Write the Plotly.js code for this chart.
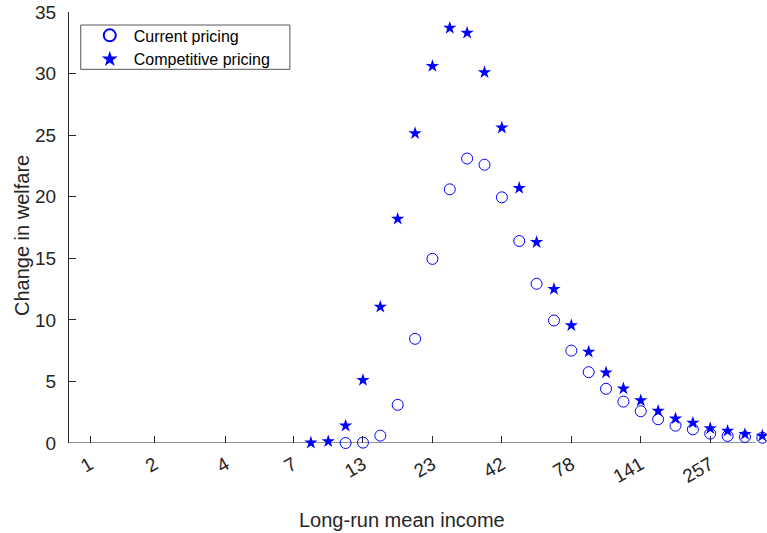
<!DOCTYPE html>
<html>
<head>
<meta charset="utf-8">
<script src="https://cdn.plot.ly/plotly-3.0.1.min.js"></script>
<style>html,body{margin:0;padding:0;background:#fff;}#chart{width:767px;height:533px;}</style>
</head>
<body>
<div id="chart"></div>
<script>
// Grid positions (income grid index) and values
const currentX = [15,16,17,18,19,20,21,22,23,24,25,26,27,28,29,30,31,32,33,34,35,36,37,38,39];
const currentY = [0.0,0.03,0.6,3.1,8.46,14.95,20.6,23.1,22.6,19.95,16.4,12.93,9.95,7.5,5.75,4.4,3.36,2.58,1.93,1.41,1.11,0.76,0.57,0.49,0.43];
const competitiveX = [13,14,15,16,17,18,19,20,21,22,23,24,25,26,27,28,29,30,31,32,33,34,35,36,37,38,39];
const competitiveY = [0.02,0.13,1.4,5.1,11.05,18.2,25.15,30.6,33.7,33.3,30.1,25.6,20.7,16.3,12.5,9.55,7.4,5.72,4.42,3.45,2.6,1.98,1.63,1.19,0.98,0.72,0.58];
const xTickVals = [0.28,4,8.1,12,16,20,24,28,32,36];
const xTickText = ['1','2','4','7','13','23','42','78','141','257'];
const yTickVals = [0,5,10,15,20,25,30,35];
const xAxisStart = -0.93, xAxisEnd = 38.61;

const font = 'Liberation Sans, Arial, Helvetica, sans-serif';
const ink = '#262626';

const traces = [
  {x: currentX, y: currentY, mode: 'markers', type: 'scatter', name: 'Current pricing',
   cliponaxis: false,
   marker: {symbol: 'circle-open', size: 11, color: '#0000ff', line: {width: 1, color: '#0000ff'}}},
  {x: competitiveX, y: competitiveY, mode: 'markers', type: 'scatter', name: 'Competitive pricing',
   cliponaxis: false,
   marker: {symbol: 'star', size: 10, color: '#0000ff', line: {width: 0}}}
];

const layout = {
  width: 767, height: 533,
  margin: {l: 69, r: 0, t: 12, b: 90},
  paper_bgcolor: '#fff', plot_bgcolor: '#fff',
  font: {family: font, color: ink},
  showlegend: true,
  legend: {x: 0.024, y: 0.985, xanchor: 'left', yanchor: 'top', bgcolor: 'rgba(0,0,0,0)',
           borderwidth: 0, itemsizing: 'constant', itemwidth: 38,
           font: {size: 16, family: font, color: '#000'}, tracegroupgap: 0},
  xaxis: {range: [xAxisStart, 39.27], tickmode: 'array', tickvals: xTickVals, ticktext: xTickText,
          tickangle: -30, ticks: 'inside', ticklen: 7, tickwidth: 1, tickcolor: ink,
          showline: false, showgrid: false, zeroline: false,
          tickfont: {size: 19, family: font, color: ink}, ticklabelstandoff: 6},
  yaxis: {range: [0, 35], tickmode: 'array', tickvals: yTickVals,
          ticks: 'inside', ticklen: 7, tickwidth: 1, tickcolor: ink,
          showline: true, linecolor: ink, linewidth: 1, showgrid: false, zeroline: false,
          tickfont: {size: 19, family: font, color: ink}, ticklabelstandoff: 8},
  shapes: [
    {type: 'line', xref: 'x', yref: 'y', x0: xAxisStart, x1: xAxisEnd, y0: 0, y1: 0,
     line: {color: ink, width: 1}, layer: 'below'},
    {type: 'rect', xref: 'paper', yref: 'paper', x0: 0.0168, x1: 0.3165, y0: 0.867, y1: 0.9698,
     line: {color: '#555', width: 1}, fillcolor: 'rgba(0,0,0,0)'}
  ],
  annotations: [
    {text: 'Long-run mean income', xref: 'paper', yref: 'paper', x: 0.477, y: -0.1787,
     xanchor: 'center', yanchor: 'middle', showarrow: false, font: {size: 20, family: font, color: ink}},
    {text: 'Change in welfare', xref: 'paper', yref: 'paper', x: -0.0673, y: 0.4803, textangle: -90,
     xanchor: 'center', yanchor: 'middle', showarrow: false, font: {size: 20, family: font, color: ink}}
  ]
};

Plotly.newPlot('chart', traces, layout, {displayModeBar: false, staticPlot: true});
</script>
</body>
</html>
